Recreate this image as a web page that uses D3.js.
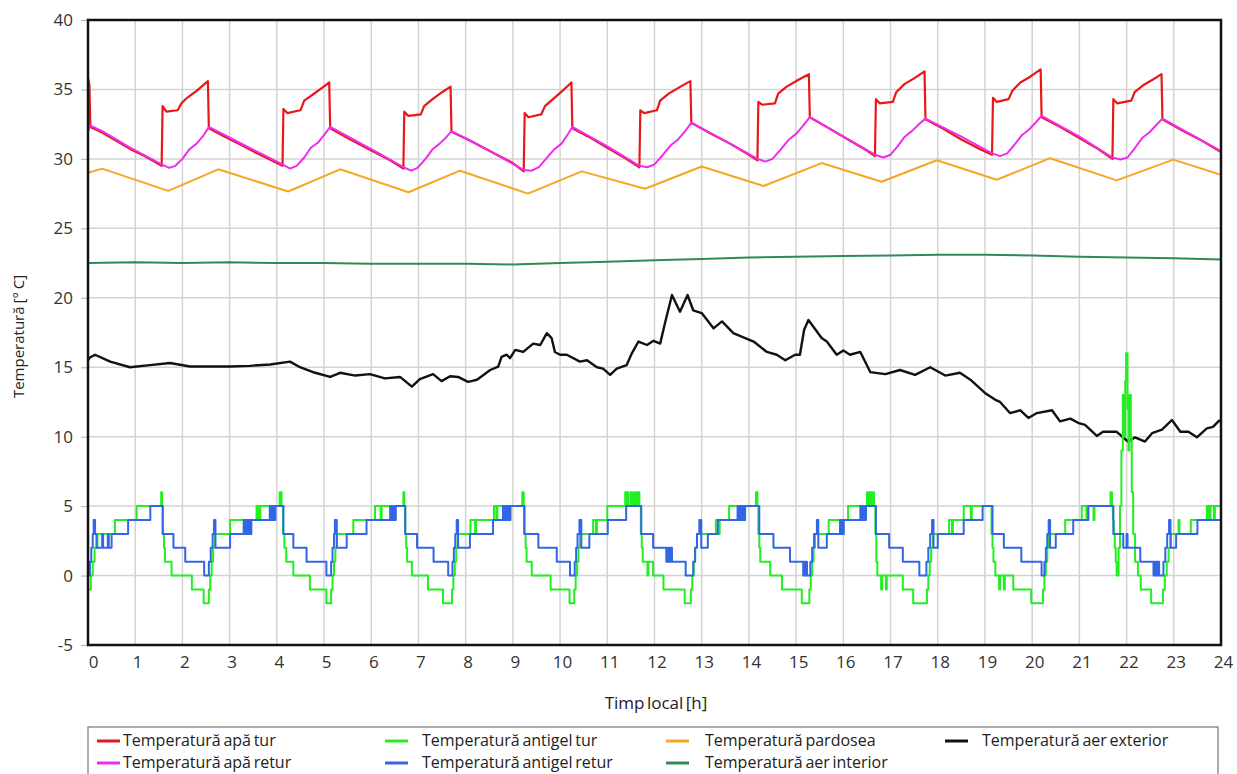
<!DOCTYPE html>
<html>
<head>
<meta charset="utf-8">
<script src="https://cdn.jsdelivr.net/npm/d3@7/dist/d3.min.js"></script>
<style>
  html, body { margin: 0; padding: 0; background: #fff; }
  svg { display: block; font-family: "Open Sans", "Noto Sans", sans-serif; }
</style>
</head>
<body>
<svg id="chart" width="1237" height="774"></svg>
<script>
// Hour ticks and temperature ticks
const hourTicks = d3.range(0, 25);
const tempTicks = [-5, 0, 5, 10, 15, 20, 25, 30, 35, 40];

// Temperatură apă tur  [hour, °C]
const apaTur = [
  [0,35.8],[0.03,35.3],[0.05,32.3],[0.3,31.9],[0.6,31.3],[0.9,30.7],[1.2,30.2],[1.56,29.5],
  [1.58,33.8],[1.66,33.4],[1.9,33.5],[1.98,34.0],[2.1,34.4],[2.3,34.9],[2.54,35.6],[2.56,32.2],
  [2.9,31.6],[3.3,30.9],[3.7,30.2],[4.12,29.5],
  [4.14,33.6],[4.22,33.3],[4.5,33.5],[4.58,34.2],[4.75,34.6],[4.95,35.1],[5.11,35.5],[5.13,32.2],
  [5.5,31.5],[6.0,30.6],[6.4,29.9],[6.68,29.3],
  [6.70,33.4],[6.78,33.1],[7.05,33.2],[7.12,33.8],[7.3,34.3],[7.5,34.8],[7.68,35.2],[7.7,31.95],
  [8.1,31.3],[8.6,30.4],[9.0,29.7],[9.23,29.1],
  [9.25,33.3],[9.33,33.0],[9.6,33.2],[9.68,33.8],[9.85,34.3],[10.05,34.9],[10.24,35.5],[10.26,32.2],
  [10.6,31.6],[11.0,30.8],[11.4,30.0],[11.68,29.4],
  [11.70,33.5],[11.78,33.3],[12.05,33.5],[12.12,34.2],[12.3,34.7],[12.55,35.2],[12.76,35.6],[12.78,32.6],
  [13.2,31.8],[13.6,31.1],[14.0,30.3],[14.18,29.9],
  [14.20,34.1],[14.28,33.9],[14.55,34.0],[14.62,34.7],[14.8,35.2],[15.05,35.7],[15.27,36.1],[15.29,33.0],
  [15.7,32.2],[16.1,31.4],[16.5,30.6],[16.67,30.2],
  [16.69,34.3],[16.77,34.0],[17.05,34.1],[17.12,34.8],[17.3,35.4],[17.5,35.8],[17.72,36.3],[17.74,32.85],
  [18.1,32.2],[18.5,31.4],[18.9,30.7],[19.15,30.3],
  [19.17,34.4],[19.25,34.1],[19.5,34.3],[19.58,34.9],[19.75,35.5],[19.95,35.9],[20.18,36.45],[20.2,33.0],
  [20.6,32.3],[21.0,31.5],[21.4,30.7],[21.70,30.0],
  [21.72,34.3],[21.8,34.0],[22.1,34.2],[22.17,34.8],[22.35,35.3],[22.55,35.7],[22.74,36.1],[22.76,32.85],
  [23.2,32.0],[23.6,31.3],[24,30.5]
];

// Temperatură apă retur
const apaRetur = [
  [0,32.0],[0.05,32.4],[0.3,32.0],[0.9,30.8],[1.56,29.6],[1.72,29.35],[1.85,29.5],[2.0,30.0],[2.15,30.7],[2.3,31.1],[2.45,31.7],[2.56,32.3],
  [3.3,31.0],[4.12,29.6],[4.28,29.3],[4.42,29.5],[4.58,30.1],[4.72,30.8],[4.88,31.2],[5.02,31.8],[5.13,32.3],
  [6.0,30.7],[6.68,29.4],[6.85,29.15],[6.98,29.35],[7.15,30.0],[7.3,30.7],[7.45,31.1],[7.6,31.6],[7.7,32.0],
  [8.5,30.6],[9.23,29.2],[9.4,29.15],[9.55,29.4],[9.7,30.0],[9.88,30.7],[10.03,31.1],[10.15,31.7],[10.26,32.3],
  [11.0,30.9],[11.68,29.5],[11.85,29.4],[12.0,29.6],[12.18,30.3],[12.35,31.0],[12.5,31.4],[12.65,32.0],[12.78,32.6],
  [13.5,31.3],[14.18,30.0],[14.35,29.8],[14.5,30.0],[14.68,30.7],[14.85,31.4],[15.0,31.8],[15.15,32.4],[15.29,33.0],
  [16.0,31.6],[16.67,30.3],[16.85,30.1],[17.0,30.3],[17.15,30.9],[17.3,31.6],[17.45,32.0],[17.6,32.5],[17.74,32.9],
  [18.5,31.6],[19.15,30.4],[19.32,30.2],[19.47,30.4],[19.62,31.0],[19.78,31.7],[19.93,32.1],[20.07,32.6],[20.2,33.1],
  [21.0,31.6],[21.70,30.1],[21.87,29.95],[22.02,30.1],[22.18,30.8],[22.33,31.5],[22.48,31.9],[22.62,32.4],[22.76,32.9],
  [23.4,31.7],[24,30.55]
];

// Temperatură pardosea
const pardosea = [
  [0,29.0],[0.3,29.3],[1.7,27.7],[2.76,29.25],[4.24,27.65],[5.34,29.25],[6.79,27.6],[7.88,29.15],
  [9.32,27.5],[10.46,29.1],[11.8,27.85],[13.0,29.45],[14.31,28.05],[15.54,29.7],[16.81,28.35],
  [17.98,29.9],[19.25,28.5],[20.38,30.05],[21.79,28.45],[22.99,29.95],[24,28.85]
];

// Temperatură aer interior
const aerInterior = [
  [0,22.5],[1,22.55],[2,22.5],[3,22.55],[4,22.5],[5,22.5],[6,22.45],[7,22.45],[8,22.45],[9,22.4],
  [10,22.5],[11,22.6],[12,22.7],[13,22.8],[14,22.9],[15,22.95],[16,23.0],[17,23.05],[18,23.1],
  [19,23.1],[20,23.05],[21,22.95],[22,22.9],[23,22.85],[24,22.75]
];

// Temperatură aer exterior
const aerExterior = [
  [0.0,15.5],[0.04,15.7],[0.15,15.9],[0.47,15.4],[0.89,15.0],[1.31,15.15],[1.74,15.3],[2.16,15.05],
  [2.58,15.05],[3.01,15.05],[3.43,15.1],[3.86,15.2],[4.28,15.4],[4.49,15.0],[4.81,14.6],[5.13,14.3],
  [5.34,14.6],[5.66,14.4],[5.97,14.5],[6.29,14.2],[6.61,14.3],[6.86,13.6],[7.03,14.15],[7.31,14.5],
  [7.49,14.0],[7.67,14.35],[7.84,14.3],[8.05,13.95],[8.24,14.1],[8.52,14.8],[8.69,15.05],[8.76,15.75],
  [8.87,15.9],[8.94,15.65],[9.05,16.25],[9.22,16.1],[9.43,16.7],[9.58,16.6],[9.72,17.45],[9.82,17.1],
  [9.89,16.1],[10.0,15.9],[10.14,15.9],[10.42,15.4],[10.57,15.5],[10.78,15.0],[10.91,14.9],[11.06,14.45],
  [11.2,14.9],[11.41,15.15],[11.52,16.0],[11.66,16.85],[11.84,16.6],[11.98,16.9],[12.12,16.7],[12.22,18.15],
  [12.37,20.2],[12.54,19.0],[12.7,20.2],[12.82,19.1],[13.0,18.9],[13.25,17.8],[13.43,18.3],[13.67,17.45],
  [13.92,17.1],[14.1,16.85],[14.38,16.1],[14.59,15.9],[14.77,15.5],[14.98,15.9],[15.08,15.9],[15.17,17.7],
  [15.26,18.4],[15.37,17.9],[15.54,17.1],[15.65,16.85],[15.86,15.9],[16.0,16.2],[16.14,15.9],[16.36,16.1],
  [16.57,14.65],[16.89,14.5],[17.2,14.8],[17.52,14.45],[17.84,15.0],[18.16,14.4],[18.47,14.6],[18.69,14.1],
  [19.0,13.15],[19.22,12.65],[19.32,12.5],[19.53,11.7],[19.75,11.9],[19.92,11.35],[20.1,11.7],[20.42,11.9],
  [20.59,11.1],[20.81,11.3],[20.97,11.0],[21.12,10.85],[21.37,10.05],[21.5,10.35],[21.79,10.35],[22.03,9.65],
  [22.18,9.95],[22.39,9.65],[22.54,10.25],[22.75,10.5],[22.96,11.2],[23.14,10.35],[23.31,10.35],[23.49,9.95],
  [23.7,10.6],[23.83,10.7],[23.96,11.15],[24,11.1]
];

// Temperatură antigel tur (each level holds until the next listed hour)
const antigelTur = [
  [0,-1],[0.06,0],[0.1,1],[0.14,2],[0.2,3],[0.57,4],[1.03,5],[1.55,6],[1.57,5],[1.59,3],[1.61,2],[1.63,1],
  [1.77,0],[2.2,-1],[2.45,-2],[2.56,-1],[2.59,0],[2.62,1],[2.65,2],[2.69,3],[3.01,4],[3.3,3],[3.32,4],[3.57,5],
  [3.59,4],[3.61,5],[3.63,4],[3.65,5],[4.06,6],[4.1,5],[4.13,3],[4.16,2],[4.2,1],[4.35,0],[4.7,-1],[5.05,-2],
  [5.15,-1],[5.18,0],[5.21,1],[5.24,2],[5.27,3],[5.62,4],[6.08,5],[6.2,4],[6.22,5],[6.68,6],[6.7,5],[6.72,3],
  [6.74,2],[6.76,1],[6.86,0],[7.2,-1],[7.52,-2],[7.71,-1],[7.74,0],[7.77,1],[7.8,2],[7.83,3],[8.1,4],[8.2,3],
  [8.22,4],[8.6,5],[8.65,4],[8.67,5],[9.2,6],[9.23,5],[9.25,3],[9.27,2],[9.29,1],[9.4,0],[9.8,-1],[10.2,-2],
  [10.3,-1],[10.33,0],[10.36,1],[10.39,2],[10.42,3],[10.7,4],[10.76,3],[10.78,4],[11.0,5],[11.38,6],[11.4,5],
  [11.42,6],[11.45,5],[11.5,6],[11.52,5],[11.56,6],[11.58,5],[11.62,6],[11.64,5],[11.66,6],[11.68,5],[11.71,3],
  [11.73,2],[11.75,1],[11.85,0],[11.87,1],[11.97,0],[12.19,-1],[12.64,-2],[12.77,-1],[12.8,0],[12.83,1],
  [12.86,2],[12.9,3],[13.3,4],[13.36,3],[13.38,4],[13.58,5],[13.8,4],[13.82,5],[14.15,6],[14.18,5],[14.2,3],
  [14.22,2],[14.24,1],[14.45,0],[14.7,-1],[15.12,-2],[15.28,-1],[15.31,0],[15.34,1],[15.37,2],[15.4,3],
  [15.69,4],[16.1,5],[16.5,6],[16.52,5],[16.54,6],[16.56,5],[16.58,6],[16.6,5],[16.63,6],[16.65,5],[16.68,3],
  [16.7,1],[16.72,0],[16.8,-1],[16.82,0],[16.9,-1],[16.92,0],[17.26,-1],[17.48,-2],[17.77,-1],[17.8,0],
  [17.83,1],[17.86,2],[17.9,3],[18.24,4],[18.3,3],[18.32,4],[18.55,5],[18.7,4],[18.72,5],[19.14,3],[19.16,2],
  [19.18,1],[19.22,0],[19.3,-1],[19.32,0],[19.4,-1],[19.42,0],[19.6,-1],[19.98,-2],[20.23,-1],[20.26,0],
  [20.29,1],[20.32,2],[20.35,3],[20.7,4],[21.05,5],[21.15,4],[21.17,5],[21.3,4],[21.32,5],[21.66,6],[21.69,5],
  [21.71,4],[21.73,3],[21.75,2],[21.77,1],[21.79,0],[21.83,2],[21.86,5],[21.89,9],[21.92,13],[21.95,10],
  [21.97,14],[21.99,16],[22.02,12],[22.04,9],[22.06,13],[22.09,10],[22.11,6],[22.14,3],[22.18,1],[22.24,0],
  [22.3,-1],[22.52,-2],[22.77,-1],[22.81,0],[22.85,1],[22.89,2],[22.94,3],[23.1,4],[23.12,3],[23.36,4],
  [23.7,5],[23.72,4],[23.74,5],[23.76,4],[23.78,5],[23.85,4],[23.87,5],[24,5]
];

// Temperatură antigel retur
const antigelRetur = [
  [0,0],[0.04,1],[0.07,2],[0.1,3],[0.12,4],[0.15,3],[0.18,2],[0.3,3],[0.32,2],[0.42,3],[0.44,2],[0.5,3],
  [0.85,4],[1.32,5],[1.58,3],[1.81,2],[2.06,1],[2.46,0],[2.56,1],[2.6,2],[2.64,3],[2.67,4],[2.7,2],[3.01,3],
  [3.3,4],[3.32,3],[3.34,4],[3.36,3],[3.38,4],[3.4,3],[3.42,4],[3.44,3],[3.46,4],[3.85,5],[3.87,4],[3.89,5],
  [3.91,4],[3.93,5],[3.95,4],[3.97,5],
  [4.14,3],[4.35,2],[4.63,1],[5.05,0],[5.15,1],[5.18,2],[5.21,3],[5.23,4],[5.27,2],[5.48,3],[5.9,4],[6.4,5],
  [6.42,4],[6.44,5],[6.46,4],[6.48,5],[6.5,4],[6.52,5],[6.72,3],[6.97,2],[7.32,1],[7.63,0],[7.72,1],[7.75,2],
  [7.78,3],[7.81,4],[7.84,2],[8.09,3],[8.58,4],[8.79,5],[8.81,4],[8.83,5],[8.85,4],[8.87,5],[8.89,4],[8.91,5],
  [8.93,4],[8.95,5],[9.24,3],[9.54,2],[9.93,1],[10.21,0],[10.31,1],[10.34,2],[10.37,3],[10.41,4],[10.45,2],
  [10.62,3],[11.01,4],[11.4,5],[11.72,3],[11.97,2],[12.25,1],[12.27,2],[12.29,1],[12.31,2],[12.33,1],[12.35,2],
  [12.37,1],[12.66,0],[12.82,1],[12.86,2],[12.9,3],[12.95,4],[12.99,2],[13.13,3],[13.34,4],[13.76,5],[13.78,4],
  [13.8,5],[13.82,4],[13.84,5],[13.86,4],[13.88,5],[13.9,4],[13.92,5],[14.22,3],[14.52,2],[14.87,1],[15.15,0],
  [15.17,1],[15.19,0],[15.21,1],[15.23,0],[15.3,1],[15.34,2],[15.38,3],[15.44,4],[15.47,2],[15.65,3],[15.93,4],
  [15.95,3],[15.97,4],[15.99,3],[16.01,4],[16.36,5],[16.38,4],[16.4,5],[16.42,4],[16.44,5],[16.46,4],[16.48,5],
  [16.69,3],[16.97,2],[17.26,1],[17.61,0],[17.76,1],[17.8,2],[17.84,3],[17.88,4],[17.91,2],[18.0,3],[18.55,4],
  [18.95,5],[19.16,3],[19.4,2],[19.77,1],[20.2,0],[20.26,1],[20.29,2],[20.32,3],[20.35,4],[20.38,2],[20.5,3],
  [20.87,4],[21.19,5],[21.72,3],[21.93,2],[22.0,3],[22.02,2],[22.29,1],[22.57,0],[22.59,1],[22.61,0],[22.63,1],
  [22.65,0],[22.67,1],[22.69,0],[22.78,1],[22.82,2],[22.86,3],[22.9,4],[22.93,2],[23.05,3],[23.5,4],[24,4]
];

const margin = { left: 88, right: 1221, top: 20, bottom: 645 };
const svg = d3.select("#chart");
const FONT = "'Open Sans', 'Noto Sans', sans-serif";

const x = d3.scaleLinear().domain([0, 24]).range([margin.left, margin.right]);
const y = d3.scaleLinear().domain([-5, 40]).range([margin.bottom, margin.top]);

// grid
const grid = svg.append("g").attr("stroke", "#d3d3d3").attr("stroke-width", 1.5);
grid.selectAll("line.v").data(hourTicks.slice(1, -1)).join("line")
  .attr("x1", d => x(d)).attr("x2", d => x(d))
  .attr("y1", margin.top).attr("y2", margin.bottom);
grid.selectAll("line.h").data(tempTicks.slice(1, -1)).join("line")
  .attr("x1", margin.left).attr("x2", margin.right)
  .attr("y1", d => y(d)).attr("y2", d => y(d));

// y axis
const yAxis = svg.append("g")
  .attr("transform", `translate(${margin.left},0)`)
  .call(d3.axisLeft(y).tickValues(tempTicks).tickSize(7).tickPadding(8)
    .tickFormat(d => (d < 0 ? "-" : "") + Math.abs(d)));
yAxis.select(".domain").remove();
yAxis.selectAll(".tick line").attr("stroke", "#bbb").attr("stroke-width", 1.2);
yAxis.selectAll(".tick text")
  .attr("font-size", 17).attr("fill", "#333").attr("font-family", FONT);

// x axis
const xAxis = svg.append("g")
  .attr("transform", `translate(0,${margin.bottom})`)
  .call(d3.axisBottom(x).tickValues(hourTicks).tickSize(0).tickPadding(11).tickFormat(d3.format("d")));
xAxis.select(".domain").remove();
xAxis.selectAll(".tick text")
  .attr("font-size", 17).attr("fill", "#333")
  .attr("dx", d => d === 0 ? 5 : 2)
  .attr("font-family", FONT);

// axis titles
svg.append("text")
  .attr("transform", `translate(24,${(margin.top + margin.bottom) / 2 + 4}) rotate(-90)`)
  .attr("text-anchor", "middle")
  .attr("font-size", 15).attr("fill", "#222")
  .attr("word-spacing", -1)
  .text("Temperatură [° C]");
svg.append("text")
  .attr("x", 656).attr("y", 709)
  .attr("text-anchor", "middle")
  .attr("font-size", 17).attr("fill", "#222")
  .attr("word-spacing", -2)
  .text("Timp local [h]");

// series
const lineLin = d3.line().x(d => x(d[0])).y(d => y(d[1]));
const lineStep = d3.line().x(d => x(d[0])).y(d => y(d[1])).curve(d3.curveStepAfter);

svg.append("clipPath").attr("id", "plotclip")
  .append("rect").attr("x", margin.left).attr("y", margin.top)
  .attr("width", margin.right - margin.left).attr("height", margin.bottom - margin.top);

const plot = svg.append("g").attr("clip-path", "url(#plotclip)")
  .attr("fill", "none").attr("stroke-linejoin", "round");

const series = [
  { data: aerInterior, color: "#2e8b57", width: 2, gen: lineLin },
  { data: pardosea, color: "#f5a623", width: 2, gen: lineLin },
  { data: apaTur, color: "#e81818", width: 2.2, gen: lineLin },
  { data: apaRetur, color: "#ee2cee", width: 2, gen: lineLin },
  { data: aerExterior, color: "#111111", width: 2.4, gen: lineLin },
  { data: antigelTur, color: "#22ee22", width: 2, gen: lineStep },
  { data: antigelRetur, color: "#3366e6", width: 2, gen: lineStep }
];
plot.selectAll("path").data(series).join("path")
  .attr("d", s => s.gen(s.data))
  .attr("stroke", s => s.color)
  .attr("stroke-width", s => s.width);

// frame
svg.append("rect")
  .attr("x", margin.left).attr("y", margin.top)
  .attr("width", margin.right - margin.left).attr("height", margin.bottom - margin.top)
  .attr("fill", "none").attr("stroke", "#111").attr("stroke-width", 2.5);

// legend
const legendItems = [
  { label: "Temperatură apă tur", color: "#e81818", col: 0, row: 0 },
  { label: "Temperatură apă retur", color: "#ee2cee", col: 0, row: 1 },
  { label: "Temperatură antigel tur", color: "#22ee22", col: 1, row: 0 },
  { label: "Temperatură antigel retur", color: "#3366e6", col: 1, row: 1 },
  { label: "Temperatură pardosea", color: "#f5a623", col: 2, row: 0 },
  { label: "Temperatură aer interior", color: "#2e8b57", col: 2, row: 1 },
  { label: "Temperatură aer exterior", color: "#111111", col: 3, row: 0 }
];
const colX = [97, 385, 666, 945];
const colTextX = [123, 422, 705, 982];
const rowY = [741, 763];

svg.append("rect")
  .attr("x", 88).attr("y", 727).attr("width", 1130).attr("height", 60)
  .attr("fill", "#fff").attr("stroke", "#777").attr("stroke-width", 1.2);

const lg = svg.append("g");
lg.selectAll("line").data(legendItems).join("line")
  .attr("x1", d => colX[d.col]).attr("x2", d => colX[d.col] + 23)
  .attr("y1", d => rowY[d.row]).attr("y2", d => rowY[d.row])
  .attr("stroke", d => d.color).attr("stroke-width", 3);
lg.selectAll("text").data(legendItems).join("text")
  .attr("x", d => colTextX[d.col]).attr("y", d => rowY[d.row] + 5)
  .attr("font-size", 16).attr("fill", "#222")
  .attr("word-spacing", -1.5)
  .text(d => d.label);
</script>
</body>
</html>
